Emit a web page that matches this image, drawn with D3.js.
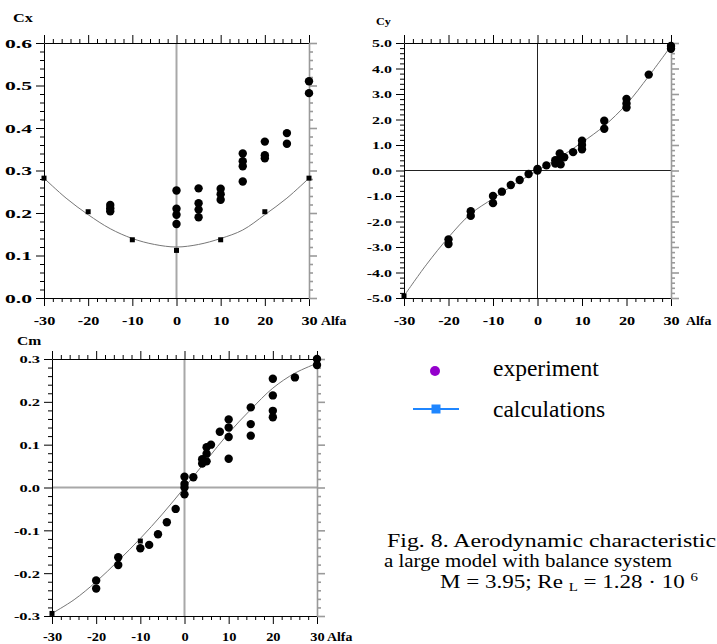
<!DOCTYPE html>
<html>
<head>
<meta charset="utf-8">
<script src="https://cdn.jsdelivr.net/npm/d3@7"></script>
<style>
  html, body { margin: 0; padding: 0; background: #fff; }
  svg { display: block; }
</style>
</head>
<body>
<script>
// ---------------- DATA ----------------
const alfaTicks = [-30, -20, -10, 0, 10, 20, 30];
const cxTicks = [0.0, 0.1, 0.2, 0.3, 0.4, 0.5, 0.6];
const cyTicks = [-5, -4, -3, -2, -1, 0, 1, 2, 3, 4, 5];
const cmTicks = [-0.3, -0.2, -0.1, 0.0, 0.1, 0.2, 0.3];

// Cx: experiment points [alfa, value]
const cxExperiment = [
  [-15, 0.219], [-15, 0.211], [-15, 0.204],
  [0, 0.253], [0, 0.210], [0, 0.196], [0, 0.174],
  [5, 0.258], [5, 0.223], [5, 0.208], [5, 0.190],
  [10, 0.257], [10, 0.244], [10, 0.231],
  [15, 0.340], [15, 0.322], [15, 0.310], [15, 0.274],
  [20, 0.368], [20, 0.336], [20, 0.329],
  [25, 0.388], [25, 0.363],
  [30, 0.510], [30, 0.482]
];
const cxCalcPoints = [[-30, 0.282], [-20, 0.203], [-10, 0.137], [0, 0.112], [10, 0.137], [20, 0.203], [30, 0.282]];
const cxCalcCurve = [[-30, 0.282], [-25, 0.235], [-20, 0.196], [-15, 0.163], [-10, 0.140], [-5, 0.126], [0, 0.120],
                     [5, 0.126], [10, 0.140], [15, 0.160], [20, 0.196], [25, 0.235], [30, 0.282]];

// Cy
const cyExperiment = [
  [-20, -2.70], [-20, -2.88],
  [-15, -1.60], [-15, -1.78],
  [-10, -1.00], [-10, -1.28],
  [-8, -0.83], [-6, -0.57], [-4, -0.37], [-2, -0.14],
  [0, 0.06], [0, 0.00],
  [2, 0.20],
  [4, 0.40], [4, 0.27], [5, 0.67], [5, 0.45], [5.2, 0.24], [6, 0.52],
  [8, 0.72],
  [10, 1.17], [10, 1.00], [10, 0.83],
  [15, 1.95], [15, 1.64],
  [20, 2.81], [20, 2.63], [20, 2.47],
  [25, 3.76],
  [30, 4.88], [30, 4.77]
];
const cyCalcPoints = [[-30, -4.92]];
const cyCalcCurve = [[-30, -4.92], [-25, -3.70], [-20, -2.62], [-15, -1.70], [-10, -1.10], [-5, -0.52], [0, 0.00],
                     [5, 0.52], [10, 1.10], [15, 1.75], [20, 2.60], [25, 3.70], [30, 4.88]];

// Cm
const cmExperiment = [
  [-20, -0.217], [-20, -0.236],
  [-15, -0.163], [-15, -0.181],
  [-10, -0.142], [-8, -0.134], [-6, -0.109], [-4, -0.081], [-2, -0.050],
  [0, 0.025], [0, 0.008], [0, 0.000], [0, -0.016],
  [2, 0.024],
  [4, 0.066], [4, 0.056], [5, 0.094], [5, 0.079], [5, 0.061], [6, 0.100],
  [8, 0.130],
  [10, 0.159], [10, 0.140], [10, 0.118], [10, 0.067],
  [15, 0.187], [15, 0.148], [15, 0.121],
  [20, 0.254], [20, 0.215], [20, 0.179], [20, 0.164],
  [25, 0.257],
  [30, 0.300], [30, 0.286]
];
const cmCalcPoints = [[-30, -0.294], [-10, -0.125]];
const cmCalcCurve = [[-30, -0.294], [-25, -0.262], [-20, -0.220], [-15, -0.171], [-10, -0.119], [-5, -0.062], [0, 0.000],
                     [5, 0.064], [10, 0.127], [15, 0.182], [20, 0.232], [25, 0.267], [30, 0.290]];

const legendLabels = ["experiment", "calculations"];
const captionLines = ["Fig. 8. Aerodynamic characteristic", "a large model with balance system"];

// ---------------- DRAW ----------------
const W = 717, H = 644;
const svg = d3.select("body").append("svg").attr("width", W).attr("height", H);
const FONT = "'Liberation Serif', 'Times New Roman', serif";

function stretch(sel, f) {
  sel.each(function () {
    const L = this.getComputedTextLength();
    this.setAttribute("textLength", L * f);
    this.setAttribute("lengthAdjust", "spacingAndGlyphs");
  });
}

function drawChart(cfg) {
  const x = d3.scaleLinear().domain([-30, 30]).range([cfg.left, cfg.right]);
  const y = d3.scaleLinear().domain([cfg.yTicks[0], cfg.yTicks[cfg.yTicks.length - 1]]).range([cfg.bottom, cfg.top]);
  const g = svg.append("g");

  // zero lines
  g.append("line").attr("x1", x(0)).attr("x2", x(0)).attr("y1", y.range()[1]).attr("y2", y.range()[0])
    .attr("stroke", cfg.zeroColor).attr("stroke-width", cfg.zeroWidth);
  if (cfg.yTicks[0] < 0) {
    g.append("line").attr("x1", x.range()[0]).attr("x2", x.range()[1]).attr("y1", y(0)).attr("y2", y(0))
      .attr("stroke", cfg.zeroColor).attr("stroke-width", cfg.zeroWidth);
  }

  const xMinor = d3.range(-30, 31, 2).filter(v => v % 10 !== 0);
  const n = Math.round((cfg.yTicks[cfg.yTicks.length - 1] - cfg.yTicks[0]) / cfg.yMinorStep);
  const yMinor = d3.range(n + 1).filter(i => i % cfg.yMinorPer !== 0).map(i => cfg.yTicks[0] + i * cfg.yMinorStep);

  function addAxis(gen, tr, major, minor, color, width, labels) {
    const a = g.append("g").attr("transform", tr);
    a.call(gen(major).tickSize(8).tickSizeOuter(0).tickPadding(4));
    a.selectAll("path, line").attr("stroke", color).attr("stroke-width", width);
    const m = g.append("g").attr("transform", tr);
    m.call(gen(minor).tickSize(4).tickSizeOuter(0).tickFormat(""));
    m.select("path").remove();
    m.selectAll("line").attr("stroke", color).attr("stroke-width", width);
    if (!labels) a.selectAll("text").remove();
    return a;
  }

  const bottom = addAxis(v => d3.axisBottom(x).tickValues(v).tickFormat(d => String(d)),
    `translate(0,${cfg.bottom})`, alfaTicks, xMinor, "#000", 1, true);
  bottom.selectAll("text").attr("y", cfg.xLabelY).attr("dy", 0)
    .attr("font-family", FONT).attr("font-weight", "bold").attr("font-size", 12).attr("fill", "#000")
    .call(stretch, cfg.xStretch);
  addAxis(v => d3.axisTop(x).tickValues(v), `translate(0,${cfg.top})`, alfaTicks, xMinor, "#000", 1, false);
  const left = addAxis(v => d3.axisLeft(y).tickValues(v).tickFormat(d => d.toFixed(1)),
    `translate(${cfg.left},0)`, cfg.yTicks, yMinor, "#000", 1, true);
  left.selectAll("text").attr("x", -12).attr("dy", "0.35em")
    .attr("font-family", FONT).attr("font-weight", "bold").attr("font-size", cfg.yFont).attr("fill", "#000")
    .call(stretch, cfg.yStretch);
  addAxis(v => d3.axisRight(y).tickValues(v), `translate(${cfg.right},0)`, cfg.yTicks, yMinor, "#9a9a9a", 1.6, false);

  // calc curve
  g.append("path").datum(cfg.curve)
    .attr("d", d3.line().x(d => x(d[0])).y(d => y(d[1])).curve(d3.curveCatmullRom))
    .attr("fill", "none").attr("stroke", "#777").attr("stroke-width", 1);
  // calc squares
  const s = 5;
  g.selectAll("rect.calc").data(cfg.calc).join("rect").attr("class", "calc")
    .attr("x", d => x(d[0]) - s / 2).attr("y", d => y(d[1]) - s / 2)
    .attr("width", s).attr("height", s).attr("fill", "#000");
  // experiment circles
  g.selectAll("circle.exp").data(cfg.exp).join("circle").attr("class", "exp")
    .attr("cx", d => x(d[0])).attr("cy", d => y(d[1])).attr("r", 4.2).attr("fill", "#000");

  // titles
  const t = g.append("text").attr("x", cfg.titleX).attr("y", cfg.titleY).text(cfg.title)
    .attr("font-family", FONT).attr("font-weight", "bold").attr("font-size", cfg.titleFont);
  t.call(stretch, cfg.titleStretch);
  const al = g.append("text").attr("x", cfg.alfaX).attr("y", cfg.bottom + cfg.xLabelY).text("Alfa")
    .attr("font-family", FONT).attr("font-weight", "bold").attr("font-size", 12);
  al.call(stretch, 1.15);
}

drawChart({ left: 44, right: 309, top: 43, bottom: 298, yTicks: cxTicks, yMinorStep: 0.02, yMinorPer: 5,
  zeroColor: "#a8a8a8", zeroWidth: 2, exp: cxExperiment, calc: cxCalcPoints, curve: cxCalcCurve,
  xLabelY: 27, xStretch: 1.35, yFont: 12, yStretch: 1.8,
  title: "Cx", titleX: 13, titleY: 22, titleFont: 13, titleStretch: 1.25, alfaX: 321 });

drawChart({ left: 404, right: 671, top: 43, bottom: 298, yTicks: cyTicks, yMinorStep: 0.2, yMinorPer: 5,
  zeroColor: "#222", zeroWidth: 1, exp: cyExperiment, calc: cyCalcPoints, curve: cyCalcCurve,
  xLabelY: 27, xStretch: 1.35, yFont: 11, yStretch: 1.45,
  title: "Cy", titleX: 376, titleY: 25, titleFont: 11, titleStretch: 1.1, alfaX: 686 });

drawChart({ left: 52, right: 317, top: 359, bottom: 616, yTicks: cmTicks, yMinorStep: 0.02, yMinorPer: 5,
  zeroColor: "#a8a8a8", zeroWidth: 2, exp: cmExperiment, calc: cmCalcPoints, curve: cmCalcCurve,
  xLabelY: 25, xStretch: 1.2, yFont: 11, yStretch: 1.5,
  title: "Cm", titleX: 17, titleY: 345, titleFont: 13, titleStretch: 1.2, alfaX: 327 });

// legend
const lg = svg.append("g");
lg.append("circle").attr("cx", 435).attr("cy", 371).attr("r", 5).attr("fill", "#9400cc");
lg.append("line").attr("x1", 413).attr("x2", 459).attr("y1", 409).attr("y2", 409)
  .attr("stroke", "#1f86ff").attr("stroke-width", 2);
lg.append("rect").attr("x", 431.5).attr("y", 404.5).attr("width", 9).attr("height", 9).attr("fill", "#1f86ff");
lg.selectAll("text").data(legendLabels).join("text")
  .attr("x", 493).attr("y", (d, i) => i === 0 ? 376 : 417)
  .attr("font-family", FONT).attr("font-size", 23.5).attr("fill", "#000").text(d => d);

// caption
const cap = svg.append("g").attr("font-family", FONT).attr("fill", "#000");
cap.append("text").attr("x", 387).attr("y", 547).attr("font-size", 18.5).text(captionLines[0])
  .attr("textLength", 329).attr("lengthAdjust", "spacingAndGlyphs");
cap.append("text").attr("x", 384).attr("y", 567).attr("font-size", 18.5).text(captionLines[1])
  .attr("textLength", 288).attr("lengthAdjust", "spacingAndGlyphs");
const l3 = cap.append("text").attr("x", 440).attr("y", 588).attr("font-size", 18.5)
  .attr("textLength", 258).attr("lengthAdjust", "spacingAndGlyphs");
l3.append("tspan").text("M = 3.95; Re ");
l3.append("tspan").attr("font-size", 12).attr("dy", 3).text("L");
l3.append("tspan").attr("dy", -3).text(" = 1.28 · 10 ");
l3.append("tspan").attr("font-size", 12).attr("dy", -7).text("6");
</script>
</body>
</html>
